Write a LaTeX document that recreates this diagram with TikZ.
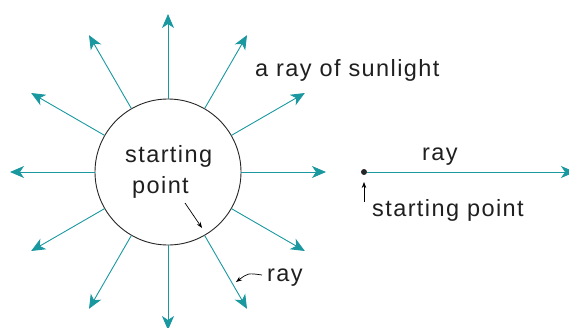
\documentclass[tikz,border=0pt]{standalone}
\usepackage{fontspec}
\setmainfont{Liberation Sans}[LetterSpace=6]
\usetikzlibrary{arrows.meta}
\definecolor{rayteal}{RGB}{26,152,160}
\tikzset{
  ray/.style={draw=rayteal, line width=0.9pt, -{Stealth[length=14pt,width=12pt,inset=4pt]}},
  pointer/.style={draw=black, line width=0.7pt, -{Stealth[length=6pt,width=4.5pt]}},
  lbl/.style={font=\fontsize{23.5}{28}\selectfont, inner sep=0pt, anchor=base west, text=black!88}
}
\begin{document}
\begin{tikzpicture}[x=1pt,y=-1pt]
\useasboundingbox (0,0) rectangle (569,327);
\node[circle, draw=black!85, line width=0.9pt, minimum size=146pt, inner sep=0pt] (c) at (168,172) {};
\foreach \a [count=\i] in {0,30,...,330}{
  \path (c.center) ++(\a:158pt) coordinate (t\i);
  \draw[ray] (c.\a) -- (t\i);
}
\node[lbl] (l1) at (125,162) {starting};
\node[lbl] (l2) at (132,193) {point};
\node[lbl] (sun) at (255,76) {a ray of sunlight};
\node[lbl] (rayb) at (267,281) {ray};
\coordinate (cs) at (185,203);
\coordinate (ce) at (202,228);
\draw[pointer] (cs) -- (ce);
\coordinate (rs) at (262,275);
\coordinate (re) at (236,282);
\draw[pointer] (rs) .. controls (248,273) .. (re);
% straight ray on the right
\node[circle, fill=black!85, minimum size=6pt, inner sep=0pt] (dot) at (364,172) {};
\coordinate (rend) at (575,172);
\draw[ray] (dot) -- (rend);
\node[lbl] (rayr) at (422,160) {ray};
\node[lbl] (sp) at (372,216) {starting point};
\coordinate (sa) at (364,202);
\coordinate (sb) at (364,182);
\draw[pointer] (sa) -- (sb);
\end{tikzpicture}
\end{document}
